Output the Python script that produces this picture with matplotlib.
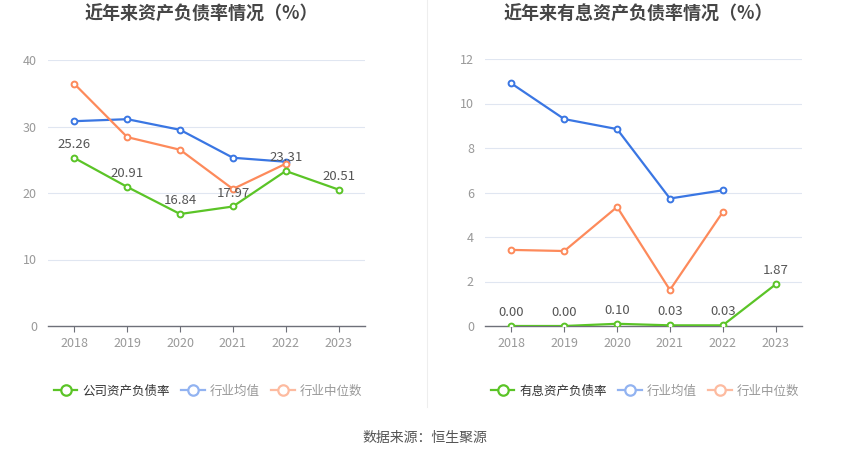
import matplotlib
matplotlib.use("Agg")
import matplotlib.pyplot as plt
from matplotlib.lines import Line2D
import numpy as np

plt.rcParams['font.family'] = ['Noto Sans CJK SC', 'DejaVu Sans']

years = ["2018", "2019", "2020", "2021", "2022", "2023"]

# Left chart: asset-liability ratio (%)
company_debt = [25.26, 20.91, 16.84, 17.97, 23.31, 20.51]
industry_mean_debt = [30.8, 31.1, 29.5, 25.3, 24.7]
industry_median_debt = [36.4, 28.4, 26.5, 20.6, 24.4]

# Right chart: interest-bearing asset-liability ratio (%)
company_interest = [0.00, 0.00, 0.10, 0.03, 0.03, 1.87]
industry_mean_interest = [10.9, 9.3, 8.85, 5.73, 6.1]
industry_median_interest = [3.42, 3.37, 5.35, 1.62, 5.12]

left_title = "近年来资产负债率情况（%）"
right_title = "近年来有息资产负债率情况（%）"
left_legend = ["公司资产负债率", "行业均值", "行业中位数"]
right_legend = ["有息资产负债率", "行业均值", "行业中位数"]
source_text = "数据来源：恒生聚源"

GREEN = "#5bc427"
BLUE = "#3a76e3"
ORANGE = "#fd8a5b"
BLUE_L = "#92b3f1"
ORANGE_L = "#fdbba0"

W, H = 850, 459
fig = plt.figure(figsize=(W / 100, H / 100), dpi=100)


def px_axes(x0, x1, ytop, ybot):
    return fig.add_axes([x0 / W, 1 - ybot / H, (x1 - x0) / W, (ybot - ytop) / H])


def draw_panel(ax, company, mean, median, ymax, ystep, title, cx):
    x = np.arange(len(years))
    kw = dict(lw=1.6, marker='o', ms=4.2, mfc='white', mew=1.4, zorder=3)
    ax.plot(x[:len(mean)], mean, color=BLUE, **kw)
    ax.plot(x[:len(median)], median, color=ORANGE, **kw)
    ax.plot(x, company, color=GREEN, zorder=4, **{k: v for k, v in kw.items() if k != 'zorder'})
    for xi, v in zip(x, company):
        ax.annotate(f"{v:.2f}", (xi, v), xytext=(0, 5), textcoords='offset points',
                    ha='center', va='bottom', fontsize=9.5, color='#555555', zorder=5)
    ax.set_xlim(-0.5, len(years) - 0.5)
    ax.set_ylim(0, ymax)
    yt = np.arange(0, ymax + 0.001, ystep)
    ax.set_yticks(yt)
    ax.set_yticklabels([f"{int(t)}" for t in yt])
    for t in yt[1:]:
        ax.axhline(t, color='#e0e6f1', lw=0.8, zorder=1)
    ax.set_xticks(x)
    ax.set_xticklabels(years)
    for s in ['top', 'right', 'left']:
        ax.spines[s].set_visible(False)
    ax.spines['bottom'].set_color('#6e7079')
    ax.spines['bottom'].set_linewidth(1.0)
    ax.tick_params(axis='y', length=0, pad=8, labelsize=9, labelcolor='#999999')
    ax.tick_params(axis='x', length=4, width=0.8, color='#6e7079', pad=4,
                   labelsize=9, labelcolor='#999999')
    fig.text(cx / W, 1 - 14 / H, title, ha='center', va='center',
             fontsize=13, fontweight='bold', color='#464646')


axL = px_axes(48, 365, 60, 326)
draw_panel(axL, company_debt, industry_mean_debt, industry_median_debt, 40, 10, left_title, 201)
axR = px_axes(485, 802, 59, 326)
draw_panel(axR, company_interest, industry_mean_interest, industry_median_interest, 12, 2, right_title, 638)


def make_legend(labels, cx):
    hk = dict(lw=1.6, marker='o', ms=7.5, mfc='white', mew=1.6)
    handles = [Line2D([], [], color=GREEN, **hk),
               Line2D([], [], color=BLUE_L, **hk),
               Line2D([], [], color=ORANGE_L, **hk)]
    leg = fig.legend(handles, labels, loc='center', bbox_to_anchor=(cx / W, 1 - 391 / H),
                     ncol=3, frameon=False, fontsize=9, handlelength=1.9,
                     handletextpad=0.4, columnspacing=0.9, borderpad=0)
    cols = ['#333333', '#999999', '#999999']
    for t, c in zip(leg.get_texts(), cols):
        t.set_color(c)


make_legend(left_legend, 208)
make_legend(right_legend, 645)

fig.add_artist(Line2D([427 / W, 427 / W], [1 - 407 / H, 1.0], color='#eeeeee', lw=0.8))
fig.text(425 / W, 1 - 438 / H, source_text, ha='center', va='center', fontsize=10, color='#555555')

fig.savefig("out.png", dpi=100, facecolor='white')
